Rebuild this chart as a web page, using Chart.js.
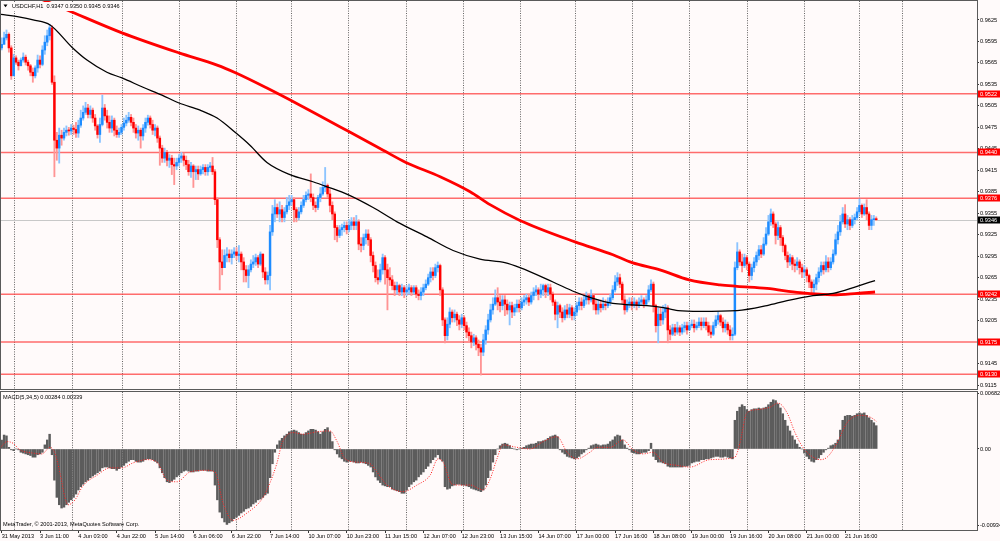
<!DOCTYPE html>
<html>
<head>
<meta charset="utf-8">
<script src="https://cdn.jsdelivr.net/npm/chart.js@4.4.1/dist/chart.umd.min.js"></script>
<style>
  html, body { margin: 0; padding: 0; background: #fffafa; }
  #wrap { position: relative; width: 1000px; height: 541px; overflow: hidden; }
  canvas { position: absolute; left: 0; }
  #main { top: 0; }
  #macd { top: 390px; }
</style>
</head>
<body>
<div id="wrap">
  <canvas id="main" width="1000" height="390"></canvas>
  <canvas id="macd" width="1000" height="151"></canvas>
</div>
<script>
// USDCHF H1, one value per hourly bar (bar 0 = 31 May 2013 19:00)
const firstOpen = 0.9586;
const closes = [
0.9591,0.9600,0.9605,0.9586,0.9547,0.9572,0.9566,0.9561,0.9569,0.9573,
0.9566,0.9561,0.9552,0.9547,0.9558,0.9569,0.9563,0.9583,0.9594,0.9603,
0.9614,0.9538,0.9457,0.9446,0.9464,0.9460,0.9468,0.9471,0.9470,0.9474,
0.9472,0.9467,0.9478,0.9488,0.9496,0.9502,0.9493,0.9499,0.9488,0.9477,
0.9465,0.9479,0.9502,0.9491,0.9482,0.9474,0.9485,0.9471,0.9465,0.9468,
0.9475,0.9481,0.9485,0.9489,0.9482,0.9474,0.9467,0.9471,0.9463,0.9474,
0.9482,0.9488,0.9479,0.9471,0.9474,0.9460,0.9446,0.9432,0.9440,0.9429,
0.9432,0.9423,0.9421,0.9426,0.9432,0.9435,0.9429,0.9423,0.9413,0.9421,
0.9413,0.9416,0.9410,0.9416,0.9419,0.9413,0.9419,0.9421,0.9413,0.9374,
0.9318,0.9287,0.9279,0.9296,0.9298,0.9293,0.9298,0.9301,0.9296,0.9298,
0.9287,0.9276,0.9268,0.9276,0.9284,0.9287,0.9293,0.9284,0.9298,0.9273,
0.9262,0.9268,0.9329,0.9354,0.9363,0.9354,0.9360,0.9349,0.9357,0.9366,
0.9371,0.9374,0.9360,0.9349,0.9357,0.9366,0.9374,0.9380,0.9382,0.9377,
0.9366,0.9363,0.9377,0.9382,0.9391,0.9394,0.9382,0.9366,0.9354,0.9335,
0.9324,0.9332,0.9335,0.9338,0.9332,0.9338,0.9343,0.9338,0.9343,0.9312,
0.9310,0.9321,0.9326,0.9318,0.9296,0.9282,0.9265,0.9262,0.9276,0.9293,
0.9276,0.9265,0.9262,0.9254,0.9248,0.9254,0.9245,0.9251,0.9245,0.9248,
0.9251,0.9245,0.9251,0.9242,0.9240,0.9245,0.9251,0.9256,0.9265,0.9273,
0.9268,0.9279,0.9282,0.9248,0.9206,0.9184,0.9200,0.9217,0.9209,0.9214,
0.9206,0.9200,0.9209,0.9198,0.9189,0.9184,0.9175,0.9181,0.9172,0.9167,
0.9161,0.9178,0.9192,0.9206,0.9220,0.9228,0.9237,0.9231,0.9226,0.9234,
0.9228,0.9220,0.9226,0.9217,0.9223,0.9228,0.9223,0.9231,0.9234,0.9237,
0.9231,0.9240,0.9245,0.9248,0.9242,0.9248,0.9254,0.9245,0.9251,0.9242,
0.9231,0.9214,0.9226,0.9217,0.9209,0.9220,0.9214,0.9223,0.9212,0.9217,
0.9226,0.9231,0.9226,0.9234,0.9240,0.9234,0.9240,0.9228,0.9220,0.9228,
0.9223,0.9228,0.9226,0.9231,0.9237,0.9248,0.9259,0.9265,0.9256,0.9234,
0.9220,0.9228,0.9231,0.9226,0.9231,0.9226,0.9231,0.9234,0.9228,0.9234,
0.9248,0.9256,0.9226,0.9198,0.9214,0.9206,0.9217,0.9223,0.9192,0.9186,
0.9195,0.9189,0.9195,0.9189,0.9195,0.9198,0.9192,0.9198,0.9200,0.9195,
0.9198,0.9203,0.9198,0.9203,0.9198,0.9189,0.9186,0.9198,0.9206,0.9212,
0.9203,0.9195,0.9200,0.9192,0.9184,0.9186,0.9279,0.9301,0.9287,0.9282,
0.9293,0.9284,0.9268,0.9279,0.9287,0.9296,0.9304,0.9298,0.9312,0.9326,
0.9343,0.9354,0.9340,0.9324,0.9335,0.9321,0.9310,0.9296,0.9287,0.9293,
0.9284,0.9282,0.9287,0.9279,0.9273,0.9276,0.9268,0.9259,0.9251,0.9256,
0.9265,0.9273,0.9282,0.9276,0.9287,0.9279,0.9287,0.9298,0.9318,0.9329,
0.9343,0.9354,0.9340,0.9346,0.9338,0.9346,0.9349,0.9357,0.9366,0.9354,
0.9363,0.9354,0.9338,0.9346,0.9347,0.9346
];
const highs = [
0.9600,0.9608,0.9611,0.9607,0.9589,0.9577,0.9575,0.9569,0.9572,0.9579,
0.9576,0.9569,0.9563,0.9558,0.9561,0.9576,0.9575,0.9589,0.9603,0.9611,
0.9619,0.9617,0.9547,0.9468,0.9474,0.9471,0.9474,0.9477,0.9475,0.9479,
0.9478,0.9482,0.9485,0.9499,0.9505,0.9510,0.9507,0.9505,0.9502,0.9493,
0.9479,0.9488,0.9520,0.9507,0.9499,0.9491,0.9491,0.9488,0.9477,0.9474,
0.9479,0.9488,0.9492,0.9496,0.9493,0.9488,0.9479,0.9477,0.9474,0.9479,
0.9488,0.9492,0.9491,0.9485,0.9479,0.9477,0.9463,0.9450,0.9446,0.9443,
0.9437,0.9436,0.9432,0.9432,0.9437,0.9440,0.9439,0.9435,0.9429,0.9426,
0.9423,0.9421,0.9421,0.9421,0.9423,0.9423,0.9423,0.9426,0.9433,0.9416,
0.9377,0.9321,0.9304,0.9304,0.9307,0.9304,0.9304,0.9307,0.9307,0.9310,
0.9301,0.9293,0.9282,0.9282,0.9290,0.9296,0.9298,0.9296,0.9301,0.9298,
0.9279,0.9273,0.9338,0.9366,0.9374,0.9368,0.9371,0.9366,0.9363,0.9377,
0.9380,0.9380,0.9377,0.9363,0.9363,0.9371,0.9380,0.9385,0.9388,0.9410,
0.9382,0.9371,0.9380,0.9391,0.9399,0.9419,0.9396,0.9388,0.9371,0.9357,
0.9338,0.9338,0.9340,0.9343,0.9343,0.9346,0.9349,0.9349,0.9352,0.9346,
0.9321,0.9326,0.9332,0.9332,0.9321,0.9301,0.9287,0.9276,0.9284,0.9298,
0.9296,0.9284,0.9279,0.9268,0.9259,0.9259,0.9256,0.9256,0.9254,0.9254,
0.9256,0.9254,0.9254,0.9254,0.9248,0.9251,0.9256,0.9262,0.9270,0.9279,
0.9279,0.9284,0.9287,0.9284,0.9251,0.9209,0.9209,0.9223,0.9220,0.9220,
0.9217,0.9212,0.9214,0.9212,0.9203,0.9195,0.9189,0.9186,0.9184,0.9178,
0.9172,0.9186,0.9198,0.9214,0.9228,0.9237,0.9248,0.9251,0.9240,0.9240,
0.9240,0.9234,0.9231,0.9231,0.9228,0.9234,0.9234,0.9237,0.9240,0.9242,
0.9242,0.9245,0.9251,0.9254,0.9251,0.9256,0.9256,0.9256,0.9256,0.9256,
0.9245,0.9234,0.9231,0.9228,0.9223,0.9226,0.9228,0.9228,0.9226,0.9223,
0.9231,0.9237,0.9237,0.9240,0.9245,0.9242,0.9248,0.9242,0.9234,0.9234,
0.9234,0.9237,0.9234,0.9237,0.9242,0.9254,0.9268,0.9272,0.9270,0.9259,
0.9240,0.9234,0.9237,0.9237,0.9237,0.9234,0.9237,0.9240,0.9237,0.9240,
0.9254,0.9262,0.9259,0.9228,0.9223,0.9223,0.9226,0.9228,0.9226,0.9198,
0.9200,0.9200,0.9203,0.9198,0.9200,0.9203,0.9203,0.9203,0.9206,0.9206,
0.9203,0.9209,0.9209,0.9209,0.9209,0.9203,0.9198,0.9203,0.9212,0.9217,
0.9214,0.9209,0.9206,0.9203,0.9198,0.9195,0.9287,0.9314,0.9304,0.9298,
0.9298,0.9296,0.9287,0.9284,0.9293,0.9301,0.9310,0.9310,0.9321,0.9335,
0.9352,0.9361,0.9357,0.9343,0.9343,0.9338,0.9324,0.9312,0.9301,0.9298,
0.9296,0.9290,0.9293,0.9290,0.9284,0.9282,0.9279,0.9270,0.9262,0.9262,
0.9270,0.9279,0.9287,0.9287,0.9296,0.9293,0.9293,0.9304,0.9326,0.9338,
0.9352,0.9363,0.9367,0.9352,0.9349,0.9352,0.9354,0.9363,0.9375,0.9368,
0.9368,0.9374,0.9357,0.9352,0.9352,0.9350
];
const lows = [
0.9583,0.9591,0.9597,0.9580,0.9542,0.9547,0.9563,0.9555,0.9561,0.9566,
0.9562,0.9555,0.9547,0.9538,0.9544,0.9552,0.9558,0.9561,0.9577,0.9589,
0.9597,0.9535,0.9406,0.9429,0.9425,0.9450,0.9457,0.9463,0.9464,0.9465,
0.9465,0.9461,0.9461,0.9475,0.9485,0.9493,0.9488,0.9488,0.9482,0.9471,
0.9460,0.9454,0.9477,0.9485,0.9474,0.9468,0.9468,0.9463,0.9461,0.9461,
0.9465,0.9471,0.9477,0.9482,0.9477,0.9468,0.9460,0.9457,0.9446,0.9457,
0.9468,0.9478,0.9474,0.9465,0.9463,0.9454,0.9422,0.9426,0.9426,0.9421,
0.9419,0.9409,0.9395,0.9416,0.9421,0.9426,0.9421,0.9416,0.9408,0.9405,
0.9391,0.9402,0.9402,0.9408,0.9410,0.9408,0.9408,0.9413,0.9409,0.9367,
0.9307,0.9248,0.9269,0.9279,0.9287,0.9287,0.9284,0.9293,0.9290,0.9287,
0.9276,0.9259,0.9259,0.9251,0.9273,0.9279,0.9282,0.9279,0.9282,0.9265,
0.9256,0.9256,0.9248,0.9324,0.9343,0.9349,0.9343,0.9343,0.9343,0.9354,
0.9360,0.9366,0.9343,0.9343,0.9346,0.9354,0.9363,0.9371,0.9374,0.9371,
0.9360,0.9357,0.9360,0.9371,0.9380,0.9385,0.9377,0.9357,0.9346,0.9318,
0.9315,0.9321,0.9324,0.9329,0.9326,0.9329,0.9332,0.9332,0.9332,0.9304,
0.9301,0.9304,0.9312,0.9310,0.9287,0.9273,0.9259,0.9256,0.9259,0.9270,
0.9256,0.9220,0.9254,0.9248,0.9240,0.9242,0.9240,0.9240,0.9237,0.9240,
0.9242,0.9240,0.9242,0.9237,0.9234,0.9234,0.9240,0.9248,0.9254,0.9259,
0.9262,0.9265,0.9273,0.9240,0.9198,0.9174,0.9178,0.9195,0.9203,0.9203,
0.9198,0.9192,0.9195,0.9192,0.9181,0.9175,0.9167,0.9170,0.9164,0.9156,
0.9129,0.9156,0.9172,0.9186,0.9203,0.9214,0.9226,0.9220,0.9217,0.9220,
0.9212,0.9214,0.9199,0.9209,0.9212,0.9217,0.9217,0.9220,0.9226,0.9228,
0.9226,0.9228,0.9234,0.9240,0.9234,0.9237,0.9240,0.9237,0.9240,0.9234,
0.9226,0.9206,0.9195,0.9209,0.9203,0.9206,0.9209,0.9209,0.9206,0.9206,
0.9212,0.9220,0.9220,0.9223,0.9228,0.9228,0.9231,0.9220,0.9214,0.9214,
0.9217,0.9220,0.9220,0.9223,0.9226,0.9234,0.9245,0.9254,0.9251,0.9228,
0.9214,0.9217,0.9223,0.9220,0.9223,0.9220,0.9223,0.9226,0.9223,0.9226,
0.9231,0.9245,0.9217,0.9189,0.9174,0.9198,0.9200,0.9209,0.9174,0.9178,
0.9184,0.9184,0.9186,0.9184,0.9186,0.9189,0.9186,0.9192,0.9195,0.9189,
0.9192,0.9195,0.9192,0.9195,0.9192,0.9184,0.9181,0.9184,0.9195,0.9200,
0.9198,0.9189,0.9189,0.9186,0.9178,0.9178,0.9184,0.9276,0.9282,0.9273,
0.9279,0.9276,0.9259,0.9262,0.9273,0.9282,0.9290,0.9293,0.9296,0.9310,
0.9324,0.9338,0.9335,0.9312,0.9318,0.9310,0.9301,0.9290,0.9279,0.9282,
0.9276,0.9273,0.9276,0.9270,0.9265,0.9265,0.9259,0.9251,0.9242,0.9240,
0.9248,0.9259,0.9268,0.9270,0.9273,0.9273,0.9276,0.9284,0.9296,0.9312,
0.9324,0.9340,0.9335,0.9332,0.9332,0.9335,0.9340,0.9346,0.9354,0.9349,
0.9352,0.9346,0.9332,0.9332,0.9338,0.9345
];

// moving averages, read at sample bars
const blackMaBars = [-0.7,7.6,13.1,20.2,29.3,35.6,43.9,50.2,59,66.9,74,82.8,89.9,97.8,103.6,110.7,120.3,129.9,135.8,144.5,155,165,177.5,188.4,199.6,210,216.3,230.1,239.3,246.8,255.1,263.1,274.7,282.3,291.4,306.9,319.4,327.8,338.6,347,357,364.5];
const blackMaValues = [0.9633,0.9629,0.9625,0.9618,0.9587,0.9569,0.9552,0.9544,0.9531,0.9520,0.9509,0.9499,0.9488,0.9467,0.9450,0.9426,0.9409,0.9399,0.9392,0.9381,0.9363,0.9343,0.9322,0.9303,0.9291,0.9286,0.9279,0.9259,0.9245,0.9236,0.9229,0.9227,0.9224,0.9219,0.9218,0.9219,0.9226,0.9233,0.9240,0.9243,0.9253,0.9261];
const redMaBars = [-0.7,27.3,50.2,74,89.9,97.8,110.7,124.5,159.2,168.7,183,195.5,203.8,216.3,239.3,255.1,263.1,274.7,286.9,299.8,306.9,319.4,333.2,347,357,364.5];
const redMaValues = [0.9678,0.9639,0.9607,0.9579,0.9562,0.9551,0.9530,0.9506,0.9443,0.9426,0.9406,0.9385,0.9367,0.9345,0.9315,0.9297,0.9286,0.9276,0.9262,0.9255,0.9253,0.9250,0.9244,0.9241,0.9243,0.9245];

// horizontal levels
const levels = [0.9522, 0.9440, 0.9376, 0.9242, 0.9175, 0.9130];
const priceTicks = [0.9625,0.9595,0.9565,0.9535,0.9505,0.9475,0.9445,0.9415,0.9385,0.9355,0.9325,0.9295,0.9265,0.9235,0.9205,0.9175,0.9145,0.9115];

// MACD(5,34,5)
const macdHist = [
0.0011,0.0017,0.0016,0.0002,-0.0001,-0.0002,0.0000,-0.0001,-0.0004,-0.0005,
-0.0006,-0.0007,-0.0008,-0.0010,-0.0010,-0.0007,-0.0006,-0.0004,0.0005,0.0011,
0.0018,-0.0007,-0.0038,-0.0059,-0.0068,-0.0072,-0.0071,-0.0068,-0.0065,-0.0062,
-0.0059,-0.0055,-0.0050,-0.0046,-0.0043,-0.0040,-0.0038,-0.0035,-0.0033,-0.0031,
-0.0029,-0.0027,-0.0023,-0.0022,-0.0022,-0.0023,-0.0024,-0.0024,-0.0026,-0.0024,
-0.0022,-0.0020,-0.0017,-0.0015,-0.0013,-0.0013,-0.0015,-0.0016,-0.0016,-0.0015,
-0.0013,-0.0012,-0.0012,-0.0013,-0.0015,-0.0017,-0.0023,-0.0029,-0.0035,-0.0040,
-0.0041,-0.0039,-0.0037,-0.0034,-0.0032,-0.0029,-0.0027,-0.0026,-0.0027,-0.0028,
-0.0028,-0.0027,-0.0027,-0.0026,-0.0026,-0.0026,-0.0027,-0.0027,-0.0027,-0.0044,
-0.0062,-0.0077,-0.0084,-0.0089,-0.0092,-0.0090,-0.0088,-0.0085,-0.0083,-0.0081,
-0.0078,-0.0076,-0.0073,-0.0072,-0.0070,-0.0067,-0.0065,-0.0062,-0.0061,-0.0059,
-0.0056,-0.0054,-0.0035,-0.0018,-0.0004,0.0005,0.0010,0.0013,0.0016,0.0018,
0.0021,0.0022,0.0023,0.0022,0.0020,0.0018,0.0018,0.0020,0.0022,0.0024,
0.0024,0.0023,0.0021,0.0018,0.0021,0.0024,0.0026,0.0021,0.0009,-0.0001,
-0.0006,-0.0010,-0.0012,-0.0015,-0.0016,-0.0015,-0.0015,-0.0016,-0.0017,-0.0017,
-0.0016,-0.0017,-0.0018,-0.0020,-0.0022,-0.0028,-0.0034,-0.0038,-0.0041,-0.0044,
-0.0045,-0.0046,-0.0046,-0.0049,-0.0050,-0.0051,-0.0052,-0.0054,-0.0054,-0.0050,
-0.0046,-0.0043,-0.0040,-0.0038,-0.0034,-0.0031,-0.0028,-0.0024,-0.0021,-0.0017,
-0.0013,-0.0010,-0.0007,-0.0012,-0.0015,-0.0046,-0.0049,-0.0048,-0.0045,-0.0044,
-0.0043,-0.0043,-0.0044,-0.0044,-0.0045,-0.0046,-0.0048,-0.0049,-0.0050,-0.0051,
-0.0052,-0.0050,-0.0044,-0.0035,-0.0026,-0.0016,-0.0007,0.0000,0.0004,0.0006,
0.0007,0.0006,0.0004,0.0001,0.0000,-0.0001,0.0000,0.0001,0.0002,0.0004,
0.0005,0.0006,0.0006,0.0007,0.0009,0.0009,0.0010,0.0011,0.0013,0.0015,
0.0016,0.0017,0.0015,-0.0001,-0.0004,-0.0006,-0.0009,-0.0010,-0.0011,-0.0012,
-0.0011,-0.0009,-0.0006,-0.0004,-0.0001,0.0001,0.0004,0.0005,0.0006,0.0005,
0.0004,0.0005,0.0005,0.0006,0.0009,0.0011,0.0015,0.0017,0.0016,0.0011,
0.0005,0.0001,-0.0001,-0.0004,-0.0005,-0.0006,-0.0006,-0.0005,-0.0004,-0.0004,
-0.0002,0.0007,-0.0009,-0.0013,-0.0016,-0.0016,-0.0017,-0.0018,-0.0021,-0.0022,
-0.0022,-0.0022,-0.0022,-0.0022,-0.0022,-0.0021,-0.0021,-0.0020,-0.0017,-0.0016,
-0.0015,-0.0015,-0.0013,-0.0013,-0.0012,-0.0012,-0.0011,-0.0010,-0.0009,-0.0009,
-0.0010,-0.0010,-0.0009,-0.0010,-0.0011,-0.0012,0.0035,0.0046,0.0051,0.0054,
0.0052,0.0048,0.0046,0.0048,0.0049,0.0049,0.0050,0.0049,0.0050,0.0051,
0.0054,0.0057,0.0060,0.0059,0.0055,0.0050,0.0043,0.0035,0.0028,0.0022,
0.0016,0.0011,0.0006,0.0002,0.0000,-0.0005,-0.0009,-0.0012,-0.0015,-0.0016,
-0.0013,-0.0011,-0.0007,-0.0004,-0.0001,0.0001,0.0004,0.0005,0.0007,0.0011,
0.0023,0.0035,0.0040,0.0041,0.0041,0.0040,0.0041,0.0043,0.0044,0.0043,
0.0044,0.0041,0.0038,0.0035,0.0032,0.00284
];
const signalBars = [-0.7,2.2,4.7,7.6,13.1,16.8,20.2,22.2,24.3,26.4,27.7,30.6,33.9,39.8,45.2,50.2,54.8,60.6,64.8,69,73.2,78.6,85.7,89,92.4,96.5,102.4,109.1,112,114.9,117,121.6,125.8,131.6,137,140,143.3,148.3,153.7,156.6,160.8,167.5,173.3,178.8,182.1,184.2,188,191.3,195.5,200.9,203.8,206.7,209.2,215.1,220.5,226,231.8,236,240.1,245.5,248.5,253.9,259.3,263.5,267.7,271.8,276,281.9,287.3,295.6,306,308.1,311,315.2,320.7,324,327.8,331.1,334.4,338.6,341.5,344.5,348.6,352.8,358.2,362.4,365];
const signalValues = [0.0001,0.0009,0.0007,-0.0001,-0.0005,-0.0006,0.0002,-0.0005,-0.0029,-0.0059,-0.0068,-0.0062,-0.0045,-0.0032,-0.0023,-0.0023,-0.0017,-0.0013,-0.0016,-0.0038,-0.0040,-0.0028,-0.0026,-0.0028,-0.0066,-0.0087,-0.0078,-0.0059,-0.0041,-0.0017,0.0007,0.0020,0.0018,0.0021,0.0022,0.0009,-0.0012,-0.0016,-0.0018,-0.0028,-0.0044,-0.0052,-0.0044,-0.0032,-0.0012,-0.0016,-0.0043,-0.0044,-0.0044,-0.0050,-0.0037,-0.0012,0.0005,0.0002,0.0000,0.0009,0.0015,-0.0004,-0.0012,-0.0004,0.0002,0.0002,0.0011,-0.0001,-0.0006,-0.0004,-0.0016,-0.0020,-0.0022,-0.0013,-0.0010,0.0007,0.0044,0.0048,0.0051,0.0056,0.0044,0.0020,0.0002,-0.0010,-0.0013,-0.0010,0.0007,0.0032,0.0041,0.0039,0.00339];
const macdTicks = [0.00682, 0, -0.00934];

// time axis: one label every 16 bars
const timeLabels = ['31 May 2013','3 Jun 11:00','4 Jun 03:00','4 Jun 22:00','5 Jun 14:00','6 Jun 06:00','6 Jun 22:00','7 Jun 14:00','10 Jun 07:00','10 Jun 23:00','11 Jun 15:00','12 Jun 07:00','12 Jun 23:00','13 Jun 15:00','14 Jun 07:00','17 Jun 00:00','17 Jun 16:00','18 Jun 08:00','19 Jun 00:00','19 Jun 16:00','20 Jun 08:00','21 Jun 00:00','21 Jun 16:00'];
const gridBars = [5.1,29.3,50.2,74,97.8,120.7,144.5,168.7,192.5,216.3,239.3,263,286.9,311,334.8,357.8,375.8];

const FONT = '"Liberation Sans", Arial, sans-serif';
const FS = 5.6;
const BG = '#fffafa';
const X_MIN = -0.29, X_MAX = 407.05;
Chart.defaults.font.family = FONT;
Chart.defaults.font.size = FS;

const last = closes.length - 1;
const opens = closes.map((c, i) => i === 0 ? firstOpen : closes[i - 1]);
const bull = closes.map((c, i) => c >= opens[i]);

function drawGrid(chart) {
  const {ctx, chartArea: a, scales: {x}} = chart;
  ctx.save();
  ctx.strokeStyle = '#3c3c3c';
  ctx.lineWidth = 0.8;
  ctx.setLineDash([1, 1.4]);
  gridBars.forEach(b => {
    const px = Math.round(x.getPixelForValue(b)) + 0.5;
    ctx.beginPath();
    ctx.moveTo(px, a.top);
    ctx.lineTo(px, a.bottom);
    ctx.stroke();
  });
  ctx.restore();
}

function drawFrame(chart) {
  const {ctx, chartArea: a} = chart;
  ctx.save();
  ctx.strokeStyle = '#5a5a5a';
  ctx.lineWidth = 1;
  ctx.strokeRect(a.left - 0.5, a.top - 0.5, a.right - a.left + 1, a.bottom - a.top + 1);
  ctx.restore();
}

const mainDecor = {
  id: 'mainDecor',
  beforeDatasetsDraw(chart) {
    const {ctx, chartArea: a, scales: {y}} = chart;
    drawGrid(chart);
    ctx.save();
    ctx.strokeStyle = '#c8c8c8';
    ctx.lineWidth = 1;
    let py = Math.round(y.getPixelForValue(closes[last])) + 0.5;
    ctx.beginPath(); ctx.moveTo(a.left, py); ctx.lineTo(a.right, py); ctx.stroke();
    ctx.strokeStyle = 'rgba(255,60,60,0.75)';
    ctx.lineWidth = 1.5;
    levels.forEach(v => {
      const ly = y.getPixelForValue(v);
      ctx.beginPath(); ctx.moveTo(a.left, ly); ctx.lineTo(a.right, ly); ctx.stroke();
    });
    ctx.restore();
  },
  afterDatasetsDraw(chart) {
    const {ctx} = chart;
    drawFrame(chart);
    ctx.save();
    ctx.fillStyle = BG;
    ctx.fillRect(2, 2, 120, 9);
    ctx.fillStyle = '#000';
    ctx.beginPath(); ctx.moveTo(3.5, 4.5); ctx.lineTo(7.5, 4.5); ctx.lineTo(5.5, 7.2); ctx.closePath(); ctx.fill();
    ctx.font = FS + 'px ' + FONT;
    ctx.textBaseline = 'middle';
    const t = 'USDCHF,H1  ' + [opens[last], highs[last], lows[last], closes[last]].map(v => v.toFixed(4)).join(' ');
    ctx.fillText(t, 12, 6);
    ctx.restore();
  },
  afterDraw(chart) {
    const {ctx, chartArea: a, scales: {y}} = chart;
    ctx.save();
    ctx.font = FS + 'px ' + FONT;
    ctx.textBaseline = 'middle';
    const box = (v, bg) => {
      const py = Math.round(y.getPixelForValue(v));
      ctx.fillStyle = bg;
      ctx.fillRect(a.right + 1, py - 3.5, 22, 7);
      ctx.fillStyle = '#fff';
      ctx.fillText(v.toFixed(4), a.right + 3, py + 0.3);
    };
    levels.forEach(v => box(v, '#ff0000'));
    box(closes[last], '#000');
    ctx.restore();
  }
};

const macdDecor = {
  id: 'macdDecor',
  beforeDatasetsDraw(chart) { drawGrid(chart); },
  afterDatasetsDraw(chart) {
    const {ctx, chartArea: a} = chart;
    drawFrame(chart);
    ctx.save();
    ctx.fillStyle = '#000';
    ctx.font = FS + 'px ' + FONT;
    ctx.textBaseline = 'middle';
    ctx.fillText('MACD(5,34,5) ' + macdHist[last].toFixed(5) + ' ' + signalValues[signalValues.length - 1].toFixed(5), a.left + 2, a.top + 5.5);
    ctx.fillText('MetaTrader, \u00a9 2001-2013, MetaQuotes Software Corp.', a.left + 2, a.bottom - 5.5);
    ctx.restore();
  }
};

const xMain = {type: 'linear', min: X_MIN, max: X_MAX, offset: false, display: false, grid: {offset: false}};

new Chart(document.getElementById('main'), {
  type: 'bar',
  data: {
    datasets: [
      {
        type: 'line', order: 0,
        data: blackMaBars.map((b, i) => ({x: b, y: blackMaValues[i]})),
        borderColor: '#000', borderWidth: 1.3, pointRadius: 0, cubicInterpolationMode: 'monotone'
      },
      {
        type: 'line', order: 1,
        data: redMaBars.map((b, i) => ({x: b, y: redMaValues[i]})),
        borderColor: '#ff0000', borderWidth: 2.8, pointRadius: 0, cubicInterpolationMode: 'monotone'
      },
      {
        order: 2,
        data: closes.map((c, i) => ({x: i, y: [opens[i], c]})),
        backgroundColor: bull.map(b => b ? '#1e8cff' : '#ff0000'),
        barThickness: 1.8, grouped: false, minBarLength: 1
      },
      {
        order: 3,
        data: closes.map((c, i) => ({x: i, y: [Math.min(lows[i], opens[i], c), Math.max(highs[i], opens[i], c)]})),
        backgroundColor: bull.map(b => b ? '#8cc4ff' : '#ff9494'),
        barThickness: 1.2, grouped: false
      }
    ]
  },
  options: {
    responsive: false, animation: false, events: [],
    layout: {padding: {left: 1, top: 1, right: 0, bottom: 1}},
    plugins: {legend: {display: false}, tooltip: {enabled: false}},
    scales: {
      x: xMain,
      y: {
        position: 'right', min: 0.91095, max: 0.96515,
        afterBuildTicks: s => { s.ticks = priceTicks.map(v => ({value: v})); },
        afterFit: s => { s.width = 23; s.paddingTop = 0; s.paddingBottom = 0; },
        ticks: {color: '#000', padding: 1, callback: v => v.toFixed(4)},
        grid: {drawOnChartArea: false, tickLength: 2, color: '#333'},
        border: {display: false}
      }
    }
  },
  plugins: [mainDecor]
});

new Chart(document.getElementById('macd'), {
  type: 'bar',
  data: {
    datasets: [
      {
        type: 'line', order: 0,
        data: signalBars.map((b, i) => ({x: b, y: signalValues[i]})),
        borderColor: '#ff2020', borderWidth: 1, borderDash: [1, 1.5], pointRadius: 0, cubicInterpolationMode: 'monotone'
      },
      {
        order: 1,
        data: macdHist.map((v, i) => ({x: i, y: v})),
        backgroundColor: '#5c5c5c', barThickness: 1.8, grouped: false
      }
    ]
  },
  options: {
    responsive: false, animation: false, events: [],
    layout: {padding: {left: 1, top: 2, right: 0, bottom: 0}},
    plugins: {legend: {display: false}, tooltip: {enabled: false}},
    scales: {
      x: {
        type: 'linear', min: X_MIN, max: X_MAX, position: 'bottom', offset: false,
        afterBuildTicks: s => { s.ticks = timeLabels.map((t, k) => ({value: k * 16})); },
        afterFit: s => { s.height = 11; s.paddingLeft = 0; s.paddingRight = 0; },
        ticks: {align: 'start', color: '#000', padding: 0, maxRotation: 0, autoSkip: false, callback: (v, i) => timeLabels[i]},
        grid: {drawOnChartArea: false, offset: false, tickLength: 3, color: '#333'},
        border: {display: false}
      },
      y: {
        position: 'right', min: -0.00988, max: 0.00695,
        afterBuildTicks: s => { s.ticks = macdTicks.map(v => ({value: v})); },
        afterFit: s => { s.width = 23; s.paddingTop = 0; s.paddingBottom = 0; },
        ticks: {color: '#000', padding: 1, callback: v => v === 0 ? '0.00' : v.toFixed(5)},
        grid: {drawOnChartArea: false, tickLength: 2, color: '#333'},
        border: {display: false}
      }
    }
  },
  plugins: [macdDecor]
});
</script>
</body>
</html>
